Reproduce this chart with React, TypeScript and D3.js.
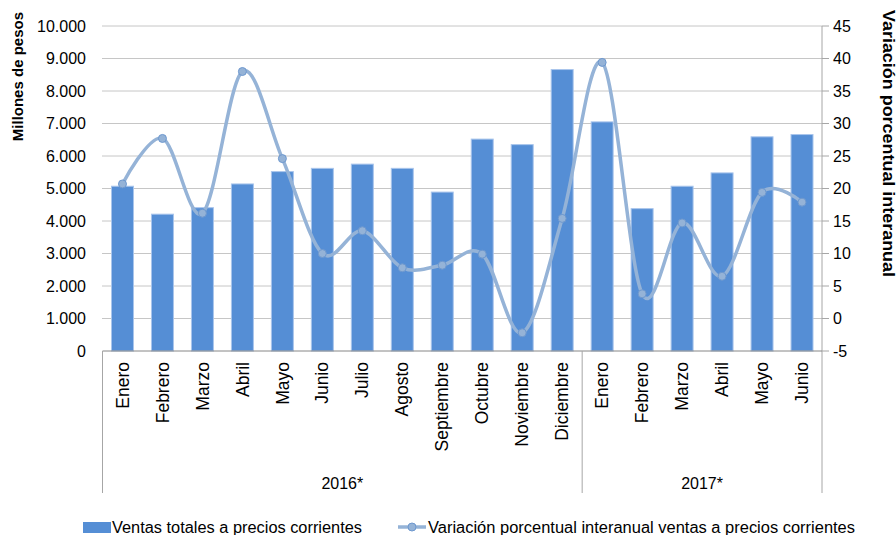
import { useEffect, useRef } from "react";
import * as d3 from "d3";

const W = 896;
const H = 535;

const months2016 = ["Enero", "Febrero", "Marzo", "Abril", "Mayo", "Junio", "Julio", "Agosto", "Septiembre", "Octubre", "Noviembre", "Diciembre"];
const months2017 = ["Enero", "Febrero", "Marzo", "Abril", "Mayo", "Junio"];
const years = ["2016*", "2017*"];

// millones de pesos
const ventas = [5070, 4210, 4410, 5140, 5520, 5620, 5750, 5620, 4890, 6520, 6350, 8660, 7050, 4380, 5070, 5480, 6590, 6660];
// variación % interanual
const variacion = [20.7, 27.7, 16.2, 38.0, 24.6, 10.0, 13.5, 7.8, 8.2, 9.9, -2.2, 15.4, 39.4, 3.8, 14.7, 6.5, 19.4, 17.9];

const leftTicks = [0, 1000, 2000, 3000, 4000, 5000, 6000, 7000, 8000, 9000, 10000];
const rightTicks = [-5, 0, 5, 10, 15, 20, 25, 30, 35, 40, 45];

const FONT = "'Liberation Sans', Arial, sans-serif";
const BAR = "#558ED5";
const LINE = "#95B3D7";

export default function App() {
  const svgRef = useRef<SVGSVGElement>(null);

  useEffect(() => {
    if (!svgRef.current) return;
    const svg = d3.select(svgRef.current);
    svg.selectAll("*").remove();

    const left = 102.5;
    const right = 822;
    const top = 26;
    const bottom = 351;
    const catBottom = 493;

    const labels = [...months2016, ...months2017];
    const x = d3
      .scaleBand<number>()
      .domain(d3.range(labels.length))
      .range([left, right])
      .paddingInner(0.45)
      .paddingOuter(0.225);
    const step = x.step();
    const cx = (i: number) => (x(i) ?? 0) + x.bandwidth() / 2;

    const yL = d3.scaleLinear().domain([0, 10000]).range([bottom, top]);
    const yR = d3.scaleLinear().domain([-5, 45]).range([bottom, top]);
    const fmt = d3.formatLocale({ decimal: ",", thousands: ".", grouping: [3], currency: ["$", ""] }).format(",");

    const g = svg.append("g").attr("font-family", FONT);

    // gridlines
    g.append("g")
      .selectAll("line")
      .data(leftTicks.filter((t) => t > 0))
      .join("line")
      .attr("x1", left)
      .attr("x2", right)
      .attr("y1", (d) => yL(d))
      .attr("y2", (d) => yL(d))
      .attr("stroke", "#8c8c8c")
      .attr("stroke-width", 1)
      .attr("stroke-dasharray", "1,1");

    // left labels
    g.append("g")
      .selectAll("text")
      .data(leftTicks)
      .join("text")
      .attr("x", 86)
      .attr("y", (d) => yL(d))
      .attr("dy", "0.35em")
      .attr("text-anchor", "end")
      .attr("font-size", 16)
      .text((d) => fmt(d));

    // right axis
    g.append("line")
      .attr("x1", right)
      .attr("x2", right)
      .attr("y1", top)
      .attr("y2", catBottom)
      .attr("stroke", "#a6a6a6");
    g.append("g")
      .selectAll("line")
      .data(rightTicks)
      .join("line")
      .attr("x1", right)
      .attr("x2", right + 7)
      .attr("y1", (d) => yR(d))
      .attr("y2", (d) => yR(d))
      .attr("stroke", "#a6a6a6");
    g.append("g")
      .selectAll("text")
      .data(rightTicks)
      .join("text")
      .attr("x", 833)
      .attr("y", (d) => yR(d))
      .attr("dy", "0.35em")
      .attr("font-size", 16)
      .text((d) => String(d));

    // bars
    g.append("g")
      .selectAll("rect")
      .data(ventas)
      .join("rect")
      .attr("x", (_d, i) => x(i) ?? 0)
      .attr("y", (d) => yL(d))
      .attr("width", x.bandwidth())
      .attr("height", (d) => bottom - yL(d))
      .attr("fill", BAR)
      .attr("stroke", "#a9c5ec")
      .attr("stroke-width", 1);

    // category axis
    g.append("line")
      .attr("x1", left)
      .attr("x2", right)
      .attr("y1", bottom)
      .attr("y2", bottom)
      .attr("stroke", "#868686");
    const sep = left + step * months2016.length;
    g.append("g")
      .selectAll("line")
      .data([left, sep])
      .join("line")
      .attr("x1", (d) => d)
      .attr("x2", (d) => d)
      .attr("y1", bottom)
      .attr("y2", catBottom)
      .attr("stroke", "#a6a6a6");

    g.append("g")
      .selectAll("text")
      .data(labels)
      .join("text")
      .attr("transform", (_d, i) => `translate(${cx(i)},362) rotate(-90)`)
      .attr("dy", "0.35em")
      .attr("text-anchor", "end")
      .attr("font-size", 17.5)
      .text((d) => d);

    g.append("g")
      .selectAll("text")
      .data(years)
      .join("text")
      .attr("x", (_d, i) => (i === 0 ? (left + sep) / 2 : (sep + right) / 2))
      .attr("y", 489)
      .attr("text-anchor", "middle")
      .attr("font-size", 16)
      .text((d) => d);

    // line
    const line = d3
      .line<number>()
      .x((_d, i) => cx(i))
      .y((d) => yR(d))
      .curve(d3.curveCardinal.tension(0));
    g.append("path")
      .datum(variacion)
      .attr("d", line)
      .attr("fill", "none")
      .attr("stroke", LINE)
      .attr("stroke-width", 3.5)
      .attr("stroke-linecap", "round");
    g.append("g")
      .selectAll("circle")
      .data(variacion)
      .join("circle")
      .attr("cx", (_d, i) => cx(i))
      .attr("cy", (d) => yR(d))
      .attr("r", 4)
      .attr("fill", LINE)
      .attr("stroke", "#6d98cf")
      .attr("stroke-width", 1);

    // axis titles
    g.append("text")
      .attr("transform", "translate(23,12) rotate(-90)")
      .attr("text-anchor", "end")
      .attr("font-size", 15)
      .attr("font-weight", "bold")
      .text("Millones de pesos");
    g.append("text")
      .attr("transform", "translate(883,10) rotate(90)")
      .attr("font-size", 16)
      .attr("font-weight", "bold")
      .attr("textLength", 267)
      .attr("lengthAdjust", "spacingAndGlyphs")
      .text("Variación porcentual interanual");

    // legend
    const lg = g.append("g");
    lg.append("rect").attr("x", 83).attr("y", 522).attr("width", 28).attr("height", 11).attr("fill", BAR);
    lg.append("text")
      .attr("x", 112)
      .attr("y", 533)
      .attr("font-size", 16)
      .attr("textLength", 250)
      .attr("lengthAdjust", "spacingAndGlyphs")
      .text("Ventas totales a precios corrientes");
    lg.append("line").attr("x1", 398).attr("x2", 426).attr("y1", 527).attr("y2", 527).attr("stroke", LINE).attr("stroke-width", 3.5);
    lg.append("circle").attr("cx", 412).attr("cy", 527).attr("r", 4).attr("fill", LINE).attr("stroke", "#6d98cf");
    lg.append("text")
      .attr("x", 428)
      .attr("y", 533)
      .attr("font-size", 16)
      .attr("textLength", 427)
      .attr("lengthAdjust", "spacingAndGlyphs")
      .text("Variación porcentual interanual ventas a precios corrientes");

    return () => {
      svg.selectAll("*").remove();
    };
  }, []);

  return (
    <div style={{ position: "absolute", left: 0, top: 0, width: W, height: H, background: "#fff" }}>
      <svg ref={svgRef} width={W} height={H} />
    </div>
  );
}
